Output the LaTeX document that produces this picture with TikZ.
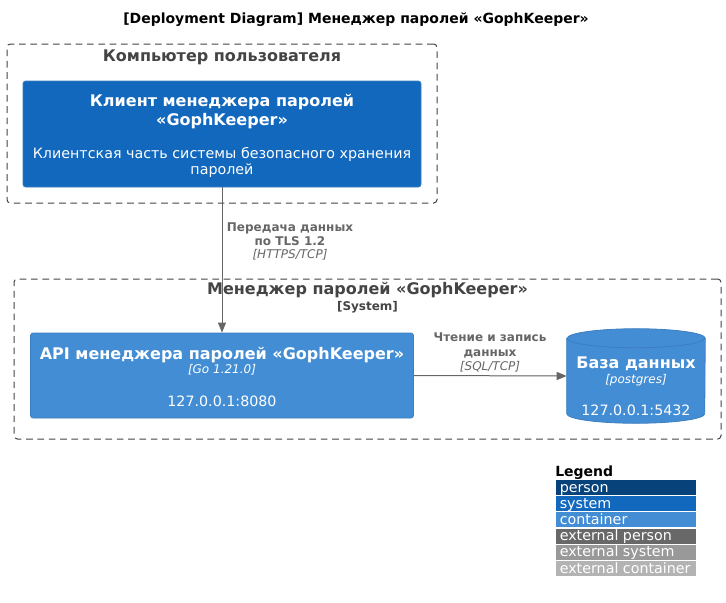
\documentclass[tikz,border=0pt]{standalone}
\usepackage{fontspec}
\setmainfont{DejaVu Sans}
\usetikzlibrary{arrows.meta,calc}
\definecolor{personcol}{HTML}{08427B}
\definecolor{systemcol}{HTML}{1168BD}
\definecolor{containercol}{HTML}{438DD5}
\definecolor{contborder}{HTML}{3C7FC0}
\definecolor{extpersoncol}{HTML}{686868}
\definecolor{extsystemcol}{HTML}{999999}
\definecolor{extcontcol}{HTML}{B3B3B3}
\definecolor{boundcol}{HTML}{444444}
\definecolor{relcol}{HTML}{666666}
\tikzset{>={Triangle[length=7.5pt,width=6pt]}}
\tikzstyle{boundary}=[rectangle,draw=boundcol,line width=0.75pt,dash pattern=on 5pt off 3.5pt,rounded corners=2.5pt,inner sep=0pt]
\tikzstyle{systembox}=[rectangle,draw=contborder,fill=systemcol,line width=0.6pt,rounded corners=2pt,inner sep=0pt]
\tikzstyle{containerbox}=[rectangle,draw=contborder,fill=containercol,line width=0.6pt,rounded corners=2pt,inner sep=0pt]
\tikzstyle{rel}=[->,draw=relcol,fill=relcol,line width=0.75pt]
\tikzstyle{bigname}=[anchor=base,inner sep=0pt,text=white,font=\fontsize{12pt}{14pt}\selectfont\bfseries]
\tikzstyle{descr}=[anchor=base,inner sep=0pt,text=white,font=\fontsize{10.7pt}{12pt}\selectfont]
\tikzstyle{techn}=[anchor=base,inner sep=0pt,text=white,font=\fontsize{9pt}{11pt}\selectfont\itshape]
\tikzstyle{boundname}=[anchor=base,inner sep=0pt,text=boundcol,font=\fontsize{12pt}{14pt}\selectfont\bfseries]
\tikzstyle{rellabel}=[anchor=base,inner sep=0pt,text=relcol,font=\fontsize{9pt}{11pt}\selectfont\bfseries]
\tikzstyle{reltechn}=[anchor=base,inner sep=0pt,text=relcol,font=\fontsize{9pt}{11pt}\selectfont\itshape]
\tikzstyle{legtext}=[anchor=base west,inner sep=0pt,text=white,font=\fontsize{10.7pt}{12pt}\selectfont]

\begin{document}
\begin{tikzpicture}[x=0.75pt,y=-0.75pt]
	\def \px {0.75pt};
	\def \legtop {480};
	\def \legstep {16.2};
	\useasboundingbox (0,0) rectangle (726,603);

	\node[anchor=base,inner sep=0pt,font=\fontsize{10.5pt}{12pt}\selectfont\bfseries] (title) at (356,23) {[Deployment Diagram] Менеджер паролей «GophKeeper»};

	% computer of the user
	\node[boundary, minimum width=430*\px, minimum height=159*\px] (compbound) at (222,123.5) {};
	\node[boundname] (comptitle) at (222,61) {Компьютер пользователя};
	\node[systembox, minimum width=398*\px, minimum height=106*\px] (client) at (222,134) {};
	\node[bigname] (clientname1) at (222,106) {Клиент менеджера паролей};
	\node[bigname] (clientname2) at (222,125) {«GophKeeper»};
	\node[descr] (clientdescr1) at (222,158.5) {Клиентская часть системы безопасного хранения};
	\node[descr] (clientdescr2) at (222,174) {паролей};

	% system boundary
	\node[boundary, minimum width=707*\px, minimum height=160*\px] (sysbound) at (367.5,359) {};
	\node[boundname] (systitle) at (367.5,294) {Менеджер паролей «GophKeeper»};
	\node[boundname, font=\fontsize{9pt}{11pt}\selectfont\bfseries] (systype) at (367.5,310) {[System]};

	\node[containerbox, minimum width=383*\px, minimum height=85*\px] (api) at (222,375.5) {};
	\node[bigname] (apiname) at (222,359) {API менеджера паролей «GophKeeper»};
	\node[techn] (apitechn) at (222,373) {[Go 1.21.0]};
	\node[descr] (apiaddr) at (222,406) {127.0.0.1:8080};

	\node[minimum width=138*\px, minimum height=75*\px, inner sep=0pt] (db) at (636,376) {};
	\path[draw=contborder,fill=containercol,line width=0.6pt] (db.north west) -- (db.south west)
		arc[start angle=180, end angle=360, x radius=69*\px, y radius=9.5*\px] -- (db.north east)
		arc[start angle=0, end angle=180, x radius=69*\px, y radius=9.5*\px] -- cycle;
	\draw[contborder,line width=0.6pt] (db.north west) arc[start angle=180, end angle=360, x radius=69*\px, y radius=9.5*\px];
	\node[bigname] (dbname) at (636,368) {База данных};
	\node[techn] (dbtechn) at (636,383) {[postgres]};
	\node[descr] (dbaddr) at (636,415) {127.0.0.1:5432};

	% relations
	\draw[rel] (client.south) -- (api.north);
	\node[rellabel] (tlslabel1) at (290,231) {Передача данных};
	\node[rellabel] (tlslabel2) at (290,245) {по TLS 1.2};
	\node[reltechn] (tlstechn) at (290,258) {[HTTPS/TCP]};

	\draw[rel] (api.east) -- (db.west);
	\node[rellabel] (sqllabel1) at (490,341) {Чтение и запись};
	\node[rellabel] (sqllabel2) at (490,356) {данных};
	\node[reltechn] (sqltechn) at (490,370) {[SQL/TCP]};

	% legend
	\node[anchor=base west,inner sep=0pt,font=\fontsize{10.5pt}{12pt}\selectfont\bfseries] (legend) at (555,476) {Legend};
	\foreach \name/\col [count=\i from 0] in {person/personcol, system/systemcol, container/containercol, external person/extpersoncol, external system/extsystemcol, external container/extcontcol} {
		\node[rectangle, fill=\col, minimum width=140*\px, minimum height=15*\px, inner sep=0pt] (leg\i) at (626,\legtop+7.5+\i*\legstep) {};
		\node[legtext] (legtext\i) at (559.5,\legtop+12+\i*\legstep) {\name};
	};
\end{tikzpicture}
\end{document}
